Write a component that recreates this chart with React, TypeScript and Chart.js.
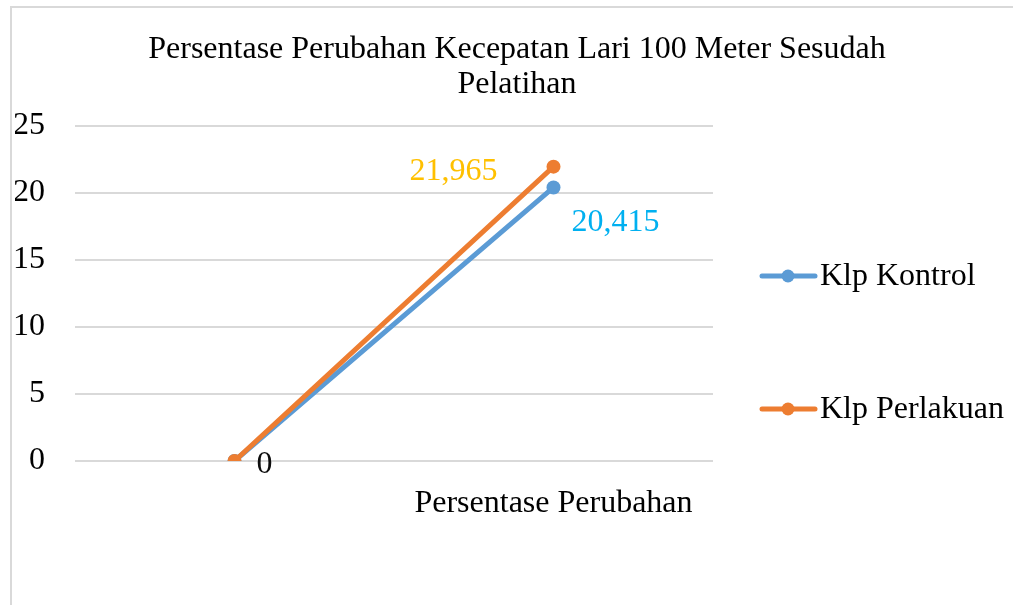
import React, { useEffect, useRef } from "react";
import { Chart, registerables } from "chart.js";

Chart.register(...registerables);

const categories = ["", "Persentase Perubahan"];
const seriesNames = ["Klp Kontrol", "Klp Perlakuan"];
const kontrolValues = [0, 20.415];
const perlakuanValues = [0, 21.965];
const yTicks = [0, 5, 10, 15, 20, 25];
const titleLines = ["Persentase Perubahan Kecepatan Lari 100 Meter Sesudah", "Pelatihan"];

const FONT = "'Liberation Serif', 'Times New Roman', serif";
const FS = 32;

const fmt = (v: number) => (v === 0 ? "0" : v.toFixed(3).replace(".", ","));

const titlePlugin = {
  id: "customTitle",
  afterDraw(chart: any) {
    const ctx = chart.ctx;
    ctx.save();
    ctx.font = `${FS}px ${FONT}`;
    ctx.fillStyle = "#000";
    ctx.textAlign = "center";
    ctx.textBaseline = "middle";
    titleLines.forEach((t, i) => ctx.fillText(t, 517, 50 + i * 35));
    ctx.restore();
  },
};

const legendPlugin = {
  id: "customLegend",
  afterDraw(chart: any) {
    const ctx = chart.ctx;
    const ys = [276, 409];
    ctx.save();
    chart.data.datasets.forEach((ds: any, i: number) => {
      const y = ys[i];
      ctx.strokeStyle = ds.borderColor;
      ctx.lineWidth = 5;
      ctx.lineCap = "round";
      ctx.beginPath();
      ctx.moveTo(762, y);
      ctx.lineTo(815, y);
      ctx.stroke();
      ctx.fillStyle = ds.borderColor;
      ctx.beginPath();
      ctx.arc(788, y, 6.5, 0, Math.PI * 2);
      ctx.fill();
      ctx.font = `${FS}px ${FONT}`;
      ctx.fillStyle = "#000";
      ctx.textAlign = "left";
      ctx.textBaseline = "middle";
      ctx.fillText(ds.label, 820, y + 1);
    });
    ctx.restore();
  },
};

const labelPlugin = {
  id: "pointLabels",
  afterDatasetsDraw(chart: any) {
    const ctx = chart.ctx;
    ctx.save();
    ctx.font = `${FS}px ${FONT}`;
    ctx.textBaseline = "middle";
    const m0 = chart.getDatasetMeta(0).data;
    const m1 = chart.getDatasetMeta(1).data;
    const d0 = chart.data.datasets[0].data;
    const d1 = chart.data.datasets[1].data;
    ctx.fillStyle = "#0d0d0d";
    ctx.textAlign = "left";
    ctx.fillText(fmt(d1[0]), m1[0].x + 22, m1[0].y + 4);
    ctx.fillStyle = "#ffc000";
    ctx.textAlign = "right";
    ctx.fillText(fmt(d1[1]), m1[1].x - 56, m1[1].y + 5);
    ctx.fillStyle = "#00b0f0";
    ctx.textAlign = "left";
    ctx.fillText(fmt(d0[1]), m0[1].x + 18, m0[1].y + 35);
    ctx.restore();
  },
};

export default function App() {
  const ref = useRef<HTMLCanvasElement>(null);
  useEffect(() => {
    document.body.style.margin = "0";
    document.body.style.overflow = "hidden";
    const chart = new Chart(ref.current!, {
      type: "line",
      data: {
        labels: categories,
        datasets: [
          {
            label: seriesNames[0],
            data: kontrolValues,
            borderColor: "#5b9bd5",
            backgroundColor: "#5b9bd5",
            borderWidth: 5,
            pointRadius: 7,
            pointBorderWidth: 0,
            borderCapStyle: "round",
            order: 1,
          },
          {
            label: seriesNames[1],
            data: perlakuanValues,
            borderColor: "#ed7d31",
            backgroundColor: "#ed7d31",
            borderWidth: 5,
            pointRadius: 7,
            pointBorderWidth: 0,
            borderCapStyle: "round",
            order: 0,
          },
        ],
      },
      options: {
        animation: false,
        responsive: false,
        maintainAspectRatio: false,
        layout: { padding: { left: 15, right: 300, top: 126, bottom: 84 } },
        plugins: {
          legend: { display: false },
          title: { display: false },
          tooltip: { enabled: false },
        },
        scales: {
          x: {
            offset: true,
            grid: { display: false },
            border: { display: false },
            ticks: { color: "#000", font: { family: FONT, size: FS }, padding: 15, maxRotation: 0 },
            afterFit: (s: any) => {
              s.height = 60;
            },
          },
          y: {
            min: 0,
            max: 25,
            afterBuildTicks: (s: any) => {
              s.ticks = yTicks.map((v) => ({ value: v }));
            },
            grid: { color: "#d9d9d9", lineWidth: 2, drawTicks: false },
            border: { display: false },
            ticks: { color: "#000", font: { family: FONT, size: FS }, padding: 30 },
            afterFit: (s: any) => {
              s.width = 60;
            },
          },
        },
      },
      plugins: [titlePlugin, legendPlugin, labelPlugin],
    });
    return () => chart.destroy();
  }, []);
  return (
    <div style={{ position: "relative", width: 1013, height: 605, overflow: "hidden", background: "#fff" }}>
      <div
        style={{
          position: "absolute",
          left: 10,
          top: 6,
          width: 1020,
          height: 620,
          border: "2px solid #d9d9d9",
          boxSizing: "border-box",
        }}
      />
      <canvas ref={ref} width={1013} height={605} style={{ position: "absolute", left: 0, top: 0 }} />
    </div>
  );
}
